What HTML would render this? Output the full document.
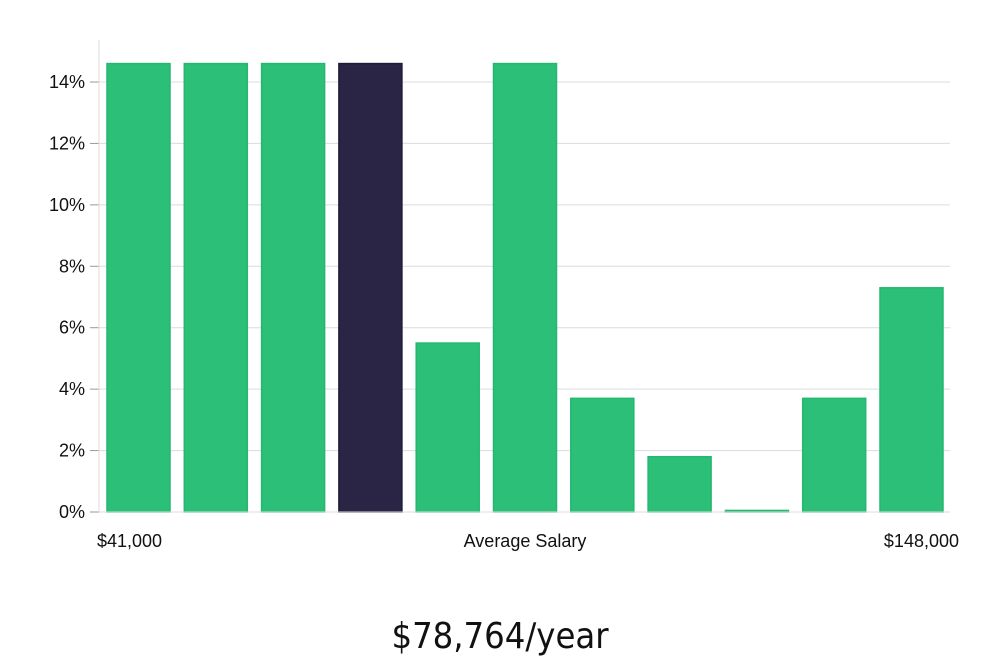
<!DOCTYPE html>
<html><head><meta charset="utf-8">
<style>
html,body{margin:0;padding:0;background:#fff;width:1000px;height:660px;overflow:hidden;font-family:"Liberation Sans","DejaVu Sans",sans-serif;}
svg{display:block}
</style></head>
<body>
<svg id="chart" width="1000" height="660" xmlns="http://www.w3.org/2000/svg">
<g id="grid"></g>
<g id="bars"></g>
<g id="yaxis"></g>
<text x="97" y="547" font-size="18" fill="#111">$41,000</text>
<text x="525" y="547" font-size="18" fill="#111" text-anchor="middle">Average Salary</text>
<text x="959" y="547" font-size="18" fill="#111" text-anchor="end">$148,000</text>
<text x="500" y="648" font-size="36" fill="#111" text-anchor="middle" style="font-family:'DejaVu Sans Condensed','Liberation Sans Narrow','Liberation Sans',sans-serif;font-weight:300">$78,764/year</text>
</svg>
<script>
const categories = ["b1","b2","b3","b4","b5","b6","b7","b8","b9","b10","b11"];
const values = [14.6,14.6,14.6,14.6,5.5,14.6,3.7,1.8,0.05,3.7,7.3];
const highlightIndex = 3;
const yTicks = [0,2,4,6,8,10,12,14];
const yTickLabels = ["0%","2%","4%","6%","8%","10%","12%","14%"];

const NS="http://www.w3.org/2000/svg";
const plotL=99, plotR=950, y0=512, pxPerUnit=(512-82)/14;
const barStart=107, step=77.3, barW=63;
function yScale(v){return y0-v*pxPerUnit;}
function xScale(i){return barStart+i*step;}

const grid=document.getElementById('grid');
const yaxis=document.getElementById('yaxis');
const bars=document.getElementById('bars');

yTicks.forEach((t,i)=>{
  const y=yScale(t);
  if(t>0){
    const l=document.createElementNS(NS,'line');
    
    
    l.setAttribute('x1',plotL);l.setAttribute('x2',plotR);
    l.setAttribute('y1',y);l.setAttribute('y2',y);
    l.setAttribute('stroke','#dcdcdc');l.setAttribute('stroke-width','1');
    grid.appendChild(l);
  }
  const tk=document.createElementNS(NS,'line');
  
  
  tk.setAttribute('x1',90);tk.setAttribute('x2',plotL);
  tk.setAttribute('y1',y);tk.setAttribute('y2',y);
  tk.setAttribute('stroke','#999');
  yaxis.appendChild(tk);
  const tx=document.createElementNS(NS,'text');
  
  
  tx.setAttribute('x',85);tx.setAttribute('y',y+6);
  tx.setAttribute('text-anchor','end');tx.setAttribute('font-size','18');tx.setAttribute('fill','#111');
  tx.textContent=yTickLabels[i];
  yaxis.appendChild(tx);
});
const ax=document.createElementNS(NS,'line');


ax.setAttribute('x1',plotL);ax.setAttribute('x2',plotL);ax.setAttribute('y1',40);ax.setAttribute('y2',y0);
ax.setAttribute('stroke','#ddd');
yaxis.appendChild(ax);
const bx=document.createElementNS(NS,'line');


bx.setAttribute('x1',plotL);bx.setAttribute('x2',plotR);bx.setAttribute('y1',y0);bx.setAttribute('y2',y0);
bx.setAttribute('stroke','#ddd');
yaxis.appendChild(bx);

values.forEach((v,i)=>{
  const r=document.createElementNS(NS,'rect');
  
  
  const y=yScale(v);
  r.setAttribute('x',xScale(i));r.setAttribute('y',y);
  r.setAttribute('width',barW);r.setAttribute('height',Math.max(1,y0-y));
  const hi=i===highlightIndex;
  r.setAttribute('fill',hi?'#2a2545':'#2bbf78');
  r.setAttribute('stroke',hi?'#1e1a3a':'#22b86f');
  r.setAttribute('stroke-width','1.5');
  bars.appendChild(r);
});
</script>
</body></html>
